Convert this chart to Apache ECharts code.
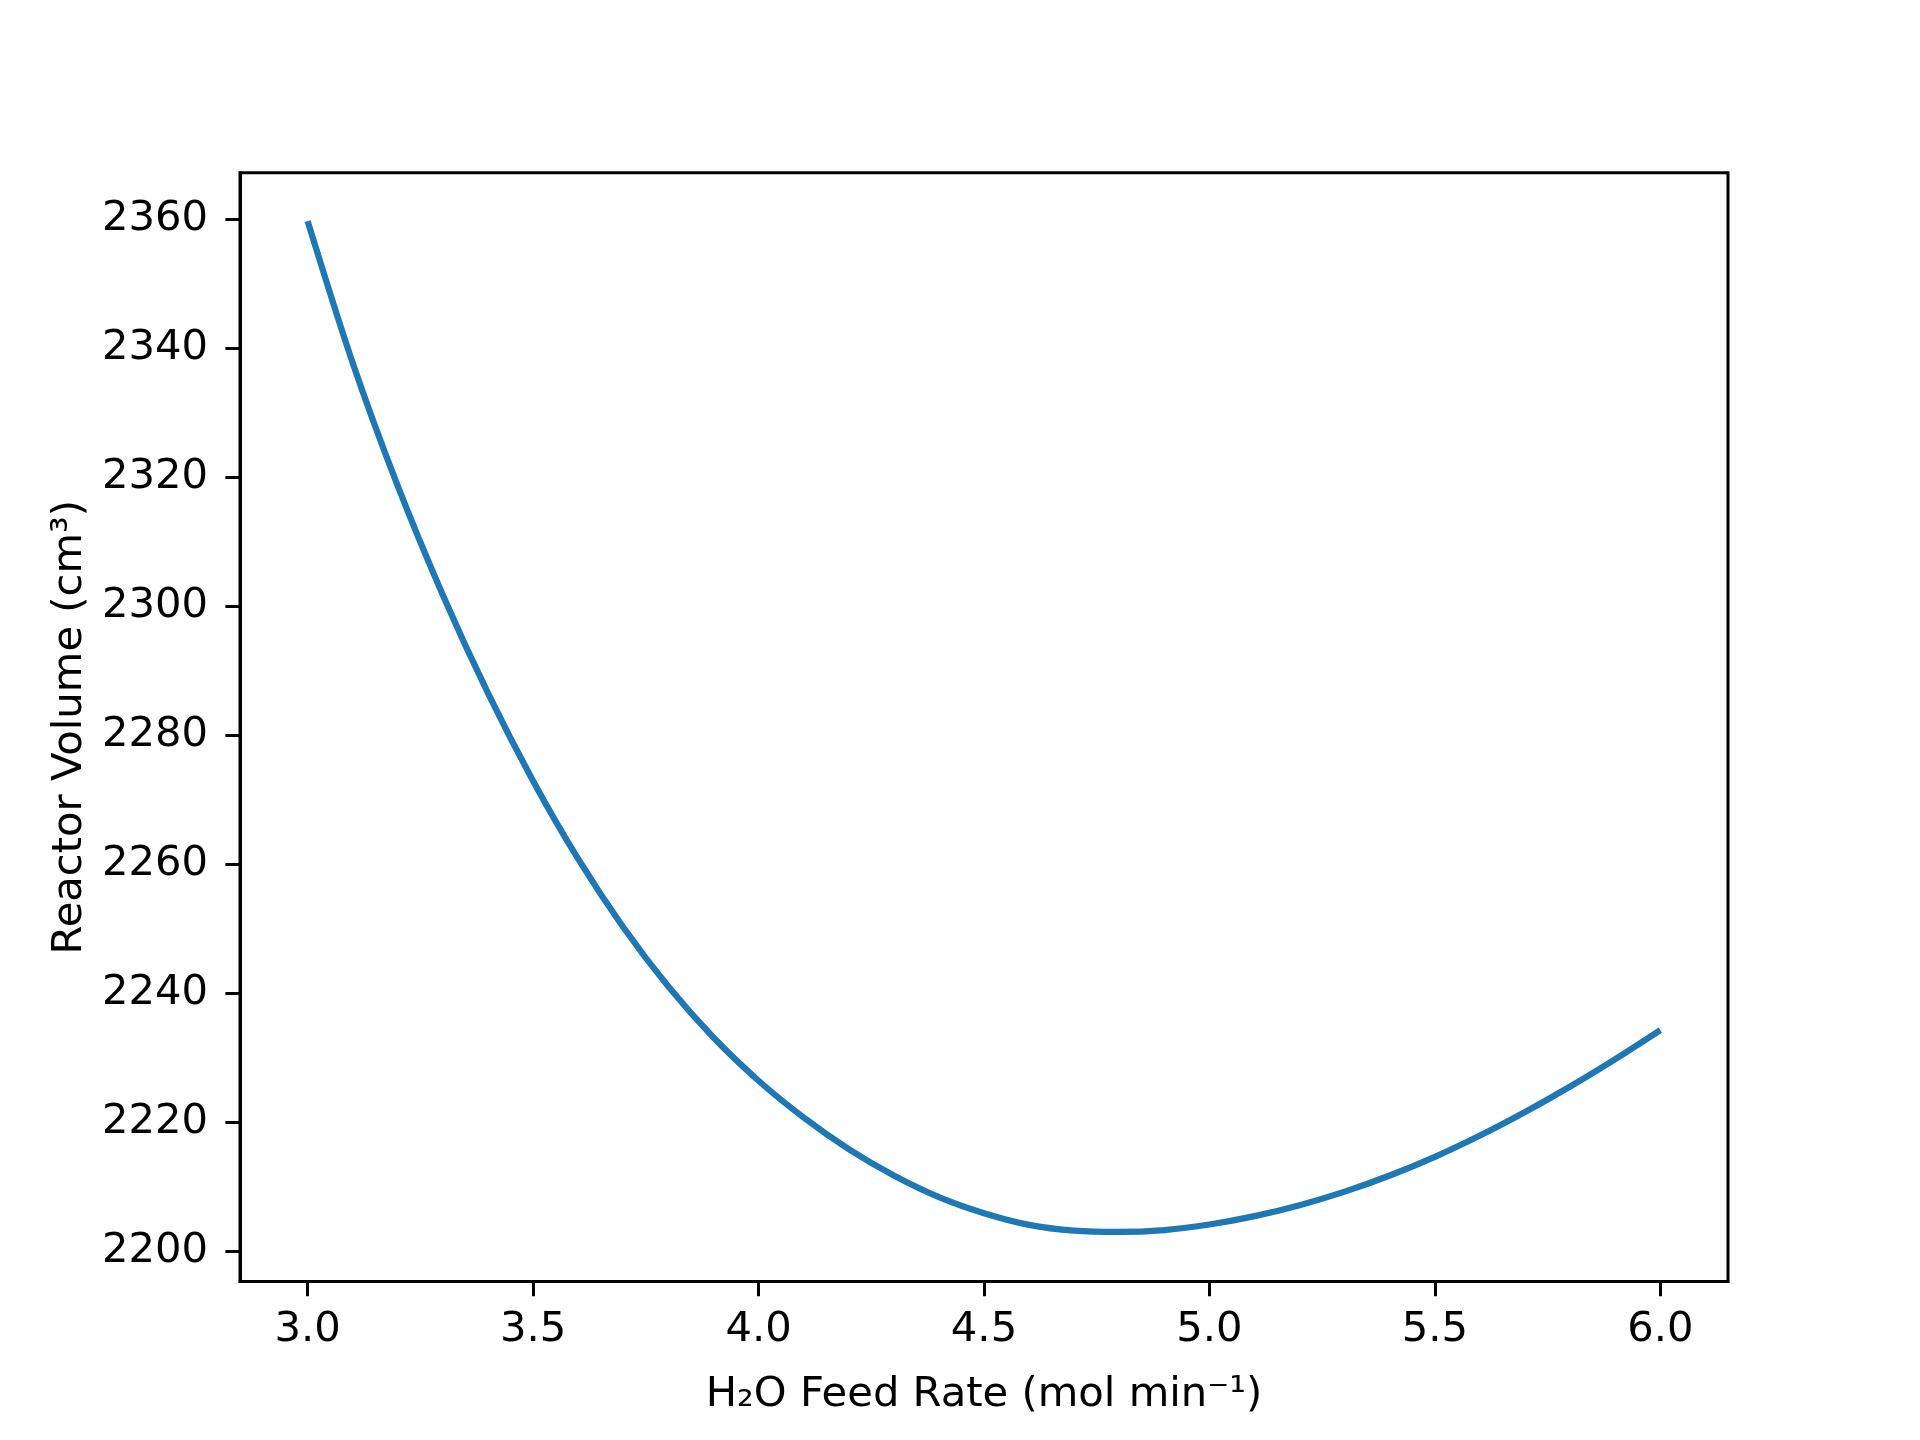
<!DOCTYPE html>
<html>
<head>
<meta charset="utf-8">
<script src="https://cdn.jsdelivr.net/npm/echarts@6/dist/echarts.min.js"></script>
<style>
  html, body { margin: 0; padding: 0; background: #fff; }
  #chart { width: 1920px; height: 1440px; }
</style>
</head>
<body>
<div id="chart"></div>
<script>
// feed rate (mol/min) and reactor volume (cm3)
const feedRate = [3.0, 3.1, 3.2, 3.3, 3.4, 3.5, 3.6, 3.7, 3.8, 3.9,
                  4.0, 4.1, 4.2, 4.3, 4.4, 4.5, 4.6, 4.7, 4.8, 4.9,
                  5.0, 5.1, 5.2, 5.3, 5.4, 5.5, 5.6, 5.7, 5.8, 5.9, 6.0];
const reactorVolume = [2359.7, 2337.7, 2318.6, 2301.7, 2286.5, 2272.9, 2260.8, 2250.2, 2241.0, 2233.1,
                       2226.4, 2220.7, 2215.8, 2211.7, 2208.35, 2205.85, 2204.05, 2203.15, 2202.95, 2203.25,
                       2204.1, 2205.4, 2207.1, 2209.2, 2211.7, 2214.6, 2217.9, 2221.55, 2225.5, 2229.75, 2234.25];

const xTicks = [3.0, 3.5, 4.0, 4.5, 5.0, 5.5, 6.0];
const yTicks = [2200, 2220, 2240, 2260, 2280, 2300, 2320, 2340, 2360];

const FONT = "DejaVu Sans";
const FS = 41.7;

const chart = echarts.init(document.getElementById("chart"), null, { renderer: "canvas" });

chart.setOption({
  animation: false,
  backgroundColor: "#fff",
  grid: {
    left: 240,
    right: 192,
    top: 172.8,
    bottom: 158.4,
    show: true,
    borderColor: "#000",
    borderWidth: 3,
    backgroundColor: "transparent",
  },
  xAxis: {
    type: "value",
    min: 2.85,
    max: 6.15,
    name: "H₂O Feed Rate (mol min⁻¹)",
    nameLocation: "middle",
    nameGap: 93,
    nameTextStyle: { fontFamily: FONT, fontSize: FS, color: "#000" },
    axisLine: { show: true, lineStyle: { color: "#000", width: 3 } },
    axisTick: {
      show: true, inside: false, length: 14.6,
      lineStyle: { color: "#000", width: 3 },
      customValues: xTicks,
    },
    axisLabel: {
      fontFamily: FONT, fontSize: FS, color: "#000", margin: 28,
      customValues: xTicks,
      formatter: (v) => v.toFixed(1),
    },
    splitLine: { show: false },
  },
  yAxis: {
    type: "value",
    min: 2195.25,
    max: 2367.2,
    name: "Reactor Volume (cm³)",
    nameLocation: "middle",
    nameRotate: 90,
    nameGap: 142,
    nameTextStyle: { fontFamily: FONT, fontSize: FS, color: "#000" },
    axisLine: { show: true, lineStyle: { color: "#000", width: 3 } },
    axisTick: {
      show: true, inside: false, length: 14.6,
      lineStyle: { color: "#000", width: 3 },
      customValues: yTicks,
    },
    axisLabel: {
      fontFamily: FONT, fontSize: FS, color: "#000", margin: 32,
      customValues: yTicks,
      formatter: (v) => String(v),
    },
    splitLine: { show: false },
  },
  series: [
    {
      type: "line",
      data: feedRate.map((f, i) => [f, reactorVolume[i]]),
      showSymbol: false,
      smooth: 0.3,
      lineStyle: { color: "#1f77b4", width: 6.25, cap: "butt" },
      itemStyle: { color: "#1f77b4" },
    },
  ],
});
</script>
</body>
</html>
